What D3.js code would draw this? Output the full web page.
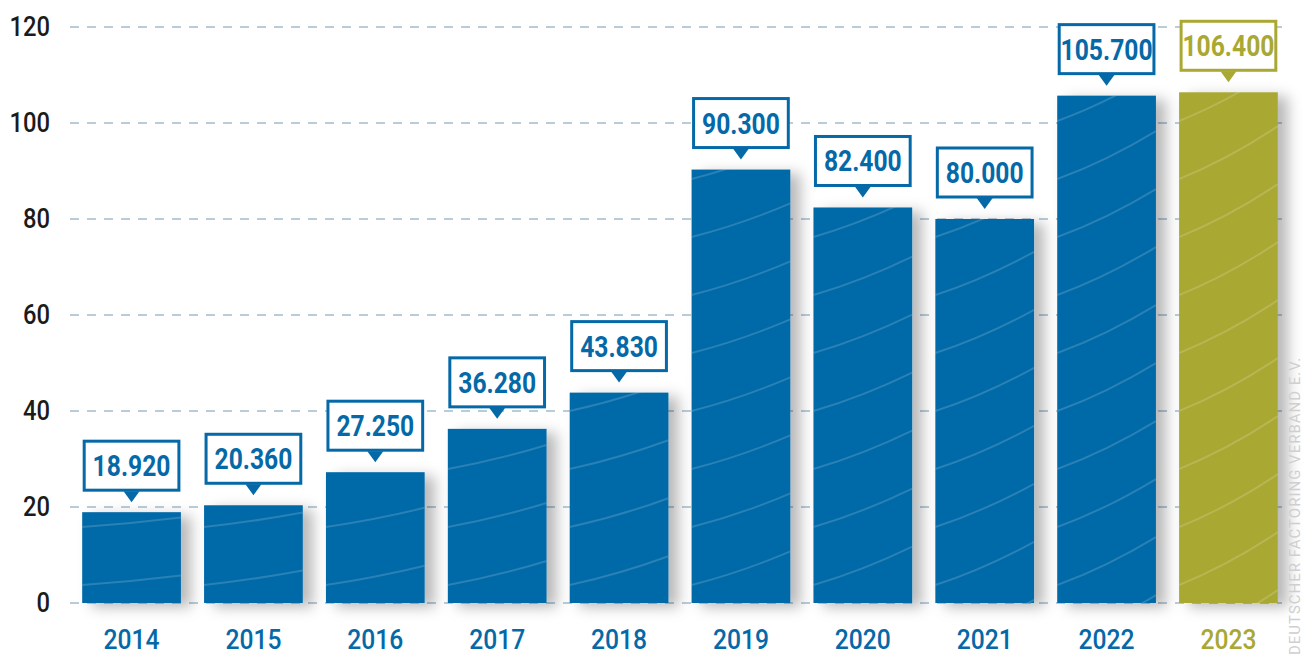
<!DOCTYPE html>
<meta charset="utf-8" />
<style>
  body { margin: 0; background: #fff; }
  svg { display: block; }
  .tick text { font-family: Roboto, "DejaVu Sans", sans-serif; }
</style>
<svg width="1304" height="657"></svg>
<script src="https://cdn.jsdelivr.net/npm/d3@7/dist/d3.min.js"></script>
<script>
  // data
  var years = ["2014", "2015", "2016", "2017", "2018", "2019", "2020", "2021", "2022", "2023"];
  var values = [18.92, 20.36, 27.25, 36.28, 43.83, 90.3, 82.4, 80.0, 105.7, 106.4];
  var labels = ["18.920", "20.360", "27.250", "36.280", "43.830", "90.300", "82.400", "80.000", "105.700", "106.400"];
  var yTicks = [0, 20, 40, 60, 80, 100, 120];

  var blue = "#0569a8",
    olive = "#a9a833";

  var svg = d3.select("svg"),
    width = 1304,
    height = 657;

  var x = d3.scaleBand().domain(years).range([70, 1290]).paddingInner(0.19).paddingOuter(0.1);
  var y = d3.scaleLinear().domain([0, 120]).range([603, 27]);

  function colorOf(d) {
    return d === "2023" ? olive : blue;
  }

  var defs = svg.append("defs");
  var shadow = defs.append("filter").attr("id", "shadow")
    .attr("x", "-20%").attr("y", "-20%").attr("width", "160%").attr("height", "140%");
  shadow.append("feDropShadow")
    .attr("dx", 10).attr("dy", 4).attr("stdDeviation", 7)
    .attr("flood-color", "#000").attr("flood-opacity", 0.28);

  // gridlines
  svg.append("g")
    .selectAll("line")
    .data(yTicks)
    .join("line")
    .attr("x1", 70)
    .attr("x2", 1282)
    .attr("y1", function(d) { return y(d); })
    .attr("y2", function(d) { return y(d); })
    .attr("stroke", "#b9cdd9")
    .attr("stroke-width", 2)
    .attr("stroke-dasharray", "9,8");

  // y axis labels (narrowed to look like a condensed face)
  var yAxis = d3.axisLeft(y).tickValues(yTicks).tickSize(0).tickPadding(0);
  var gy = svg.append("g").attr("transform", "translate(50,0)").call(yAxis);
  gy.select(".domain").remove();
  gy.selectAll("text")
    .attr("fill", "#1b1b1b")
    .attr("font-size", 27)
    .attr("font-weight", 500)
    .attr("transform", "scale(0.88,1)");

  // x axis labels
  var xAxis = d3.axisBottom(x).tickSize(0).tickPadding(0);
  var gx = svg.append("g").attr("transform", "translate(0,629)").call(xAxis);
  gx.select(".domain").remove();
  gx.selectAll("text")
    .attr("fill", function(d) { return colorOf(d); })
    .attr("font-size", 28)
    .attr("font-weight", 500)
    .attr("transform", "scale(0.88,1)");

  // bars
  var bars = svg.append("g")
    .selectAll("g")
    .data(years)
    .join("g");

  bars.append("rect")
    .attr("x", function(d) { return x(d); })
    .attr("y", function(d, i) { return y(values[i]); })
    .attr("width", x.bandwidth())
    .attr("height", function(d, i) { return y(0) - y(values[i]); })
    .attr("fill", colorOf)
    .attr("filter", "url(#shadow)");

  // faint curved texture inside bars
  bars.each(function(d, i) {
    var g = d3.select(this);
    var id = "clip" + d;
    defs.append("clipPath").attr("id", id)
      .append("rect")
      .attr("x", x(d))
      .attr("y", y(values[i]))
      .attr("width", x.bandwidth())
      .attr("height", y(0) - y(values[i]));
    var lift = 6 + i * 3;
    var lines = d3.range(y(0) + 40, y(values[i]) - 40, -58);
    g.append("g").attr("clip-path", "url(#" + id + ")")
      .selectAll("path")
      .data(lines)
      .join("path")
      .attr("d", function(l) {
        var x0 = x(d), x1 = x(d) + x.bandwidth();
        return "M" + x0 + "," + l + " Q" + (x0 + x1) / 2 + "," + (l - lift * 0.6) + " " + x1 + "," + (l - lift * 1.6);
      })
      .attr("fill", "none")
      .attr("stroke", "#ffffff")
      .attr("stroke-opacity", 0.16)
      .attr("stroke-width", 2);
  });

  // value callouts
  var boxH = 49;
  var callouts = svg.append("g")
    .selectAll("g")
    .data(years)
    .join("g")
    .attr("transform", function(d, i) {
      return "translate(" + (x(d) + x.bandwidth() / 2) + "," + (y(values[i]) - 22) + ")";
    });

  callouts.append("rect")
    .attr("x", -x.bandwidth() / 2 + 2)
    .attr("y", -boxH)
    .attr("width", x.bandwidth() - 4)
    .attr("height", boxH)
    .attr("fill", "#fff")
    .attr("stroke", colorOf)
    .attr("stroke-width", 3);

  callouts.append("path")
    .attr("d", "M-8,1 L8,1 L0,12 Z")
    .attr("fill", colorOf);

  callouts.append("text")
    .attr("y", -boxH / 2)
    .attr("dy", "0.36em")
    .attr("transform", "scale(0.85,1)")
    .attr("text-anchor", "middle")
    .attr("font-family", "Roboto, 'DejaVu Sans', sans-serif")
    .attr("font-weight", 700)
    .attr("font-size", 29)
    .attr("fill", colorOf)
    .text(function(d, i) { return labels[i]; });

  // source watermark
  svg.append("text")
    .attr("transform", "translate(1300,655) rotate(-90)")
    .attr("font-family", "Roboto, sans-serif")
    .attr("font-size", 15)
    .attr("fill", "#cfcfcf")
    .attr("letter-spacing", 1)
    .text("DEUTSCHER FACTORING VERBAND E.V.");
</script>
